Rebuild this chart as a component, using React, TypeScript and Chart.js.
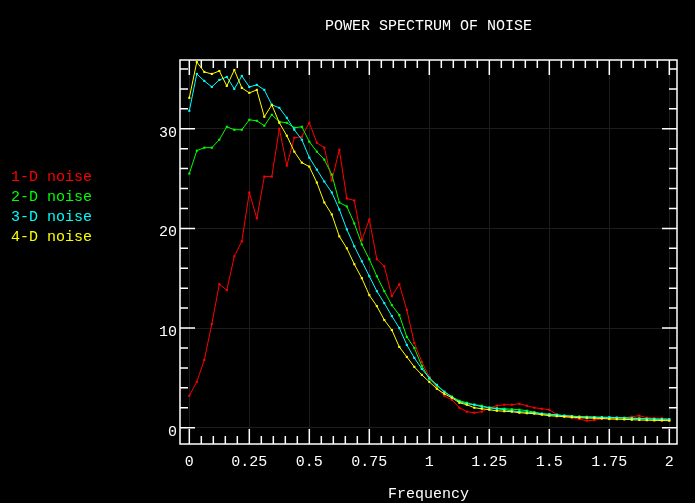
import { Chart, registerables } from "chart.js";
import { useEffect, useRef } from "react";

Chart.register(...registerables);

const freq = [
    0, 0.03125, 0.0625, 0.09375, 0.125, 0.15625, 0.1875, 0.21875, 0.25, 0.28125, 0.3125, 0.34375, 0.375, 0.40625,
    0.4375, 0.46875, 0.5, 0.53125, 0.5625, 0.59375, 0.625, 0.65625, 0.6875, 0.71875, 0.75, 0.78125, 0.8125, 0.84375,
    0.875, 0.90625, 0.9375, 0.96875, 1, 1.03125, 1.0625, 1.09375, 1.125, 1.15625, 1.1875, 1.21875, 1.25, 1.28125,
    1.3125, 1.34375, 1.375, 1.40625, 1.4375, 1.46875, 1.5, 1.53125, 1.5625, 1.59375, 1.625, 1.65625, 1.6875, 1.71875,
    1.75, 1.78125, 1.8125, 1.84375, 1.875, 1.90625, 1.9375, 1.96875, 2,
];

const noise1D = [
    3.2, 4.6, 6.8, 10.4, 14.4, 13.8, 17.2, 18.7, 23.6, 21.0, 25.2, 25.2, 30.0, 26.3, 29.1, 29.2, 30.6, 28.6, 28.1, 24.8,
    27.9, 23.0, 22.8, 18.8, 20.9, 16.9, 16.2, 13.2, 14.4, 11.8, 8.5, 6.6, 5.1, 4.0, 3.2, 2.8, 2.0, 1.6, 1.5, 1.6, 2.0,
    2.2, 2.3, 2.3, 2.4, 2.2, 2.0, 1.9, 1.8, 1.3, 1.1, 1.0, 0.85, 0.7, 0.75, 0.9, 0.95, 0.95, 1.0, 1.1, 1.2, 1.0, 0.95,
    0.95, 0.85,
];
const noise2D = [
    25.5, 27.8, 28.1, 28.1, 28.9, 30.2, 29.9, 29.9, 30.9, 30.8, 30.3, 31.4, 30.7, 30.6, 30.1, 30.2, 28.7, 27.7, 26.9,
    25.4, 22.6, 22.2, 20.5, 18.4, 16.9, 15.2, 13.7, 12.3, 11.3, 9.1, 8.0, 6.2, 4.9, 4.2, 3.6, 3.1, 2.7, 2.5, 2.3, 2.2,
    2.0, 1.95, 1.9, 1.85, 1.8, 1.7, 1.55, 1.4, 1.3, 1.25, 1.2, 1.15, 1.1, 1.08, 1.05, 1.02, 1.0, 1.0, 0.98, 0.96, 0.94,
    0.9, 0.85, 0.8, 0.77,
];
const noise3D = [
    31.8, 35.5, 34.8, 34.2, 34.9, 35.2, 34.0, 35.3, 34.2, 34.4, 33.9, 32.4, 32.1, 31.1, 29.9, 28.9, 27.1, 25.9, 24.7,
    23.6, 21.9, 19.9, 18.2, 16.7, 15.2, 13.7, 12.5, 11.2, 10.0, 8.3, 7.0, 5.9, 5.0, 4.3, 3.6, 3.1, 2.6, 2.4, 2.3, 2.1,
    2.0, 1.9, 1.8, 1.7, 1.6, 1.55, 1.5, 1.4, 1.35, 1.3, 1.2, 1.15, 1.1, 1.08, 1.06, 1.05, 1.04, 1.0, 0.97, 0.94, 0.9,
    0.88, 0.87, 0.86, 0.85,
];
const noise4D = [
    33.1, 36.7, 35.7, 35.5, 35.8, 34.3, 35.9, 34.1, 33.6, 33.9, 31.2, 32.4, 30.6, 29.3, 27.7, 26.6, 26.2, 24.6, 22.6,
    21.4, 19.2, 18.0, 16.4, 15.0, 13.3, 12.2, 10.8, 9.8, 8.1, 7.1, 6.1, 5.3, 4.6, 3.9, 3.4, 3.0, 2.5, 2.3, 2.0, 1.9,
    1.8, 1.7, 1.65, 1.6, 1.5, 1.45, 1.4, 1.3, 1.2, 1.15, 1.1, 1.05, 1.0, 0.97, 0.95, 0.92, 0.87, 0.85, 0.83, 0.8, 0.77,
    0.75, 0.73, 0.72, 0.7,
];

const seriesLabels = ["1-D noise", "2-D noise", "3-D noise", "4-D noise"];
const seriesColors = ["#ff0000", "#00ff00", "#00ffff", "#ffff00"];
const seriesValues = [noise1D, noise2D, noise3D, noise4D];

const xTicks = [0, 0.25, 0.5, 0.75, 1, 1.25, 1.5, 1.75, 2];
const yTicks = [0, 10, 20, 30];
const xMinorStep = 0.05;
const yMinorStep = 2;

const FONT = "Liberation Mono";
const FONT_SIZE = 15;

const framePlugin = {
    id: "frame",
    beforeDraw(chart: any) {
        const ctx = chart.ctx;
        ctx.save();
        ctx.fillStyle = "#000";
        ctx.fillRect(0, 0, chart.width, chart.height);
        ctx.restore();
    },
    beforeDatasetsDraw(chart: any) {
        const { ctx, chartArea: a, scales } = chart;
        const x = scales.x;
        const y = scales.y;
        ctx.save();
        ctx.strokeStyle = "#fff";
        ctx.lineWidth = 1.5;
        ctx.strokeRect(a.left, a.top, a.right - a.left, a.bottom - a.top);
        ctx.beginPath();
        // minor ticks every 0.05 on x, every 2 on y; majors longer
        for (let k = 0; k <= 40; k++) {
            const px = x.getPixelForValue(k * xMinorStep);
            const len = k % 5 === 0 ? 15 : 8;
            ctx.moveTo(px, a.bottom);
            ctx.lineTo(px, a.bottom - len);
            ctx.moveTo(px, a.top);
            ctx.lineTo(px, a.top + len);
        }
        for (let k = 0; k <= 18; k++) {
            const py = y.getPixelForValue(k * yMinorStep);
            const len = k % 5 === 0 ? 15 : 8;
            ctx.moveTo(a.left, py);
            ctx.lineTo(a.left + len, py);
            ctx.moveTo(a.right, py);
            ctx.lineTo(a.right - len, py);
        }
        ctx.stroke();
        ctx.restore();
    },
    afterDraw(chart: any) {
        const { ctx, chartArea: a } = chart;
        const cx = (a.left + a.right) / 2;
        ctx.save();
        ctx.font = `${FONT_SIZE}px "${FONT}"`;
        ctx.textBaseline = "alphabetic";
        ctx.textAlign = "center";
        ctx.fillStyle = "#fff";
        ctx.fillText("POWER SPECTRUM OF NOISE", cx, 30);
        ctx.fillText("Frequency", cx, 498);
        ctx.textAlign = "left";
        chart.data.datasets.forEach((ds: any, i: number) => {
            ctx.fillStyle = ds.borderColor;
            ctx.fillText(ds.label, 11, 181 + i * 20);
        });
        ctx.restore();
    },
};

export default function App() {
    const chartRef: any = useRef(null);

    useEffect(() => {
        document.body.style.margin = "0";
        document.body.style.background = "#000";
        if (!chartRef?.current) return;
        const chart = new Chart(chartRef.current.getContext("2d"), {
            type: "line",
            data: {
                datasets: seriesValues.map((vals, i) => ({
                    label: seriesLabels[i],
                    data: freq.map((f, j) => ({ x: f, y: vals[j] })),
                    borderColor: seriesColors[i],
                    backgroundColor: seriesColors[i],
                    pointBackgroundColor: seriesColors[i],
                    pointBorderWidth: 0,
                    pointStyle: "rect",
                    pointRadius: 1.5,
                    borderWidth: 1,
                    tension: 0,
                    order: 3 - i,
                })),
            },
            options: {
                responsive: false,
                animation: false,
                devicePixelRatio: 1,
                layout: { padding: { top: 60, right: 18, left: 0, bottom: 0 } },
                plugins: {
                    legend: { display: false },
                    title: { display: false },
                    tooltip: { enabled: false },
                },
                scales: {
                    x: {
                        type: "linear",
                        min: -0.0388,
                        max: 2.032,
                        afterBuildTicks: (scale: any) => {
                            scale.ticks = xTicks.map((value) => ({ value }));
                        },
                        afterFit: (scale: any) => {
                            scale.height = 59;
                        },
                        grid: { color: "#1c1c1c", drawTicks: false, lineWidth: 1 },
                        border: { display: false },
                        ticks: {
                            color: "#fff",
                            autoSkip: false,
                            maxRotation: 0,
                            padding: 9,
                            font: { family: FONT, size: FONT_SIZE },
                            callback: (v: any) => String(v),
                        },
                    },
                    y: {
                        type: "linear",
                        min: -1.64,
                        max: 36.9,
                        afterBuildTicks: (scale: any) => {
                            scale.ticks = yTicks.map((value) => ({ value }));
                        },
                        afterFit: (scale: any) => {
                            scale.width = 180;
                        },
                        grid: { color: "#1c1c1c", drawTicks: false, lineWidth: 1 },
                        border: { display: false },
                        ticks: {
                            color: "#fff",
                            padding: 3,
                            labelOffset: 4,
                            font: { family: FONT, size: FONT_SIZE },
                            callback: (v: any) => String(v),
                        },
                    },
                },
            },
            plugins: [framePlugin],
        } as any);
        return () => {
            chart.destroy();
        };
    }, []);

    return (
        <div style={{ position: "absolute", left: 0, top: 0, width: 695, height: 503, background: "#000" }}>
            <canvas ref={chartRef} width={695} height={503} />
        </div>
    );
}
